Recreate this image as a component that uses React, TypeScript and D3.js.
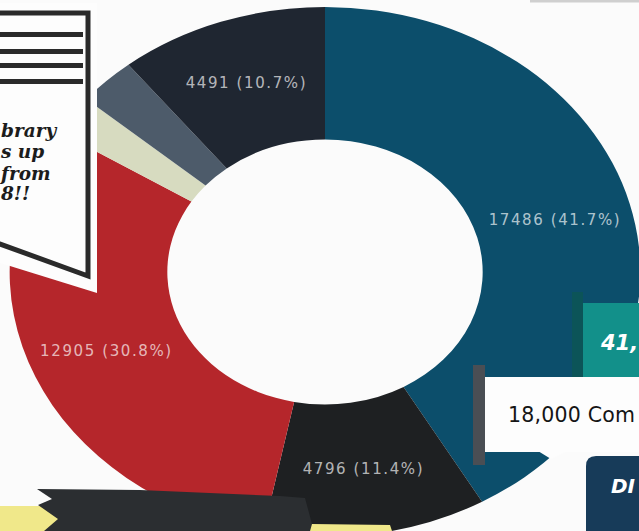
import React from 'react';
import * as d3 from 'd3';

const W = 639;
const H = 531;

// Donut data (clockwise from 12 o'clock)
const sliceNames = ['Segment A', 'Segment B', 'Segment C', 'Segment D', 'Segment E', 'Segment F'];
const sliceValues = [17486, 4796, 12905, 1010, 1245, 4491];
const sliceLabelled = [true, true, true, false, false, true];
const palette = ['#0c4e6b', '#1e2022', '#b5262b', '#d7dbc0', '#4d5b6a', '#1f2631'];

// Poster texts
const bubbleLines = ['brary', 's up', 'from', '8!!'];
const tealText = '41,';
const whiteBoxText = '18,000 Com';
const navyBoxText = 'DI';

export default function App() {
  const cx = 325;
  const cy = 272;
  const sx = 1.19;
  const rIn = 132.5;
  const rOut = 265;
  const total = d3.sum(sliceValues);
  const pie = d3.pie<number>().sort(null).value((d) => d);
  const arcs = pie(sliceValues);
  const arc = d3.arc<d3.PieArcDatum<number>>().innerRadius(rIn).outerRadius(rOut);
  const labelArc = d3.arc<d3.PieArcDatum<number>>().innerRadius(200).outerRadius(200);

  const bubbleBase = [137, 158, 180, 200];
  const stripeYs = [32, 49, 63, 79];

  return (
    <svg
      width={W}
      height={H}
      style={{ position: 'absolute', left: 0, top: 0, display: 'block' }}
    >
      <rect x={0} y={0} width={W} height={H} fill="#fbfbfb" />
      <rect x={530} y={0} width={109} height={2.5} fill="#cfcfcf" />

      {/* donut */}
      <g transform={`translate(${cx},${cy}) scale(${sx},1)`}>
        {arcs.map((a, i) => (
          <path key={sliceNames[i]} d={arc(a) || ''} fill={palette[i]} />
        ))}
      </g>

      {/* labels */}
      {arcs.map((a, i) => {
        if (!sliceLabelled[i]) return null;
        const [lx, ly] = labelArc.centroid(a);
        const pct = ((a.data / total) * 100).toFixed(1);
        return (
          <text
            key={'l' + i}
            x={cx + lx * sx}
            y={cy + ly}
            textAnchor="middle"
            dominantBaseline="central"
            fontFamily="'DejaVu Sans', sans-serif"
            fontSize={15}
            letterSpacing={1.6}
            fill="#ffffff"
            fillOpacity={0.68}
          >
            {`${a.data} (${pct}%)`}
          </text>
        );
      })}

      {/* right side boxes */}
      <rect x={572} y={292} width={11} height={85} fill="#0c5458" />
      <rect x={583} y={303} width={56} height={74} fill="#12908a" />
      <text
        x={601}
        y={350}
        fontFamily="'DejaVu Sans', sans-serif"
        fontWeight="bold"
        fontStyle="italic"
        fontSize={21}
        fill="#ffffff"
      >
        {tealText}
      </text>
      <rect x={473} y={365} width={12} height={100} fill="#4a4e54" />
      <rect x={485} y={377} width={154} height={75} fill="#fdfdfd" />
      <polygon points="538,451 567,451 551,459" fill="#fdfdfd" />
      <text
        x={508}
        y={422}
        fontFamily="'DejaVu Sans', sans-serif"
        fontSize={20.5}
        letterSpacing={0.2}
        fill="#151515"
      >
        {whiteBoxText}
      </text>
      <path d="M586,531 V466 Q586,456 596,456 H639 V531 Z" fill="#173b59" />
      <text
        x={611}
        y={493}
        fontFamily="'DejaVu Sans', sans-serif"
        fontWeight="bold"
        fontStyle="italic"
        fontSize={20}
        fill="#ffffff"
      >
        {navyBoxText}
      </text>

      {/* speech bubble sticker */}
      <polygon points="-2,3 97,3 97,293 10,266 -2,262" fill="#fdfdfd" />
      <path
        d="M-5,13 H88 V276 L0,244 H-5"
        fill="#fdfdfd"
        stroke="#2a2a2a"
        strokeWidth={5}
        strokeLinejoin="miter"
      />
      {stripeYs.map((y, i) => (
        <rect key={'s' + i} x={-5} y={y} width={88} height={5} fill="#2a2a2a" />
      ))}
      {bubbleLines.map((t, i) => (
        <text
          key={'b' + i}
          x={1}
          y={bubbleBase[i]}
          textAnchor="start"
          fontFamily="'DejaVu Serif', serif"
          fontWeight="bold"
          fontStyle="italic"
          fontSize={18.5}
          fill="#1c1c1c"
        >
          {t}
        </text>
      ))}

      {/* bottom papers */}
      <rect x={0} y={506} width={60} height={25} fill="#f0e88a" />
      <polygon
        points="37,489 140,490 280,496 305,498 312,524 310,531 44,531 58,519 38,505 52,499"
        fill="#2b2e31"
      />
      <polygon points="312,524 390,525 392,531 310,531" fill="#f0e88a" />
    </svg>
  );
}
